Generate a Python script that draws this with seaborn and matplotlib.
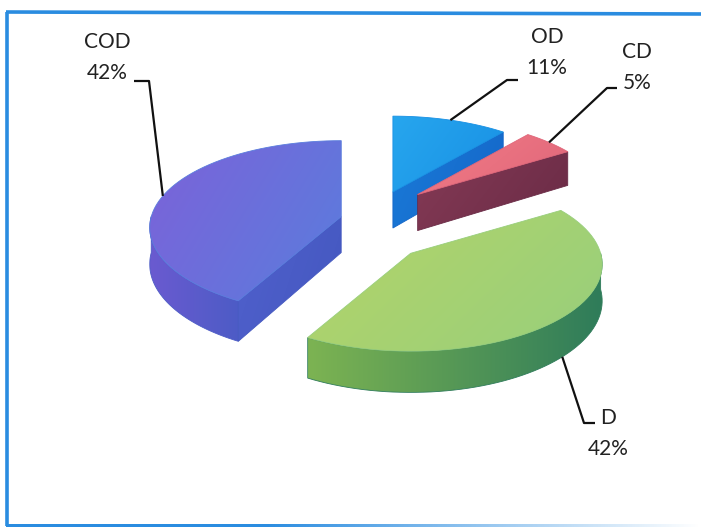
import numpy as np
import matplotlib
matplotlib.use("Agg")
import matplotlib.pyplot as plt
from matplotlib.patches import Polygon
from matplotlib.colors import to_rgb
import seaborn as sns

# Data
labels = ["OD", "CD", "D", "COD"]
values = [11, 5, 42, 42]
explode = [38, 50, 42, 40]

# Face colours per slice: (top light, top dark), (wall light, wall dark), (cut light, cut dark)
top_cols = [("#27a6ee", "#1890e4"), ("#f27c86", "#e0667a"),
            ("#b4d468", "#98cf7c"), ("#7c62d9", "#5a7ddd")]
wall_cols = [("#1a78d6", "#1466c8"), ("#7f3552", "#692a45"),
             ("#7cb352", "#2f7c5a"), ("#6a5ad0", "#4d5cc6")]
cut_cols = [("#1a7ad8", "#1466c8"), ("#843a55", "#6a2b46"),
            ("#6aa84e", "#3f8a55"), ("#5060cc", "#4458c0")]

# Label placement (text centre of name line) and leader elbow
label_pos = [(547, 37), (637, 52), (608, 418), (107, 42)]
elbows = [((507, 80), (518, 80)), ((607, 88), (617, 88)),
          ((584, 423), (595, 423)), ((149, 81), (134, 81))]

sns.set_theme(style="white")
plt.rcParams["font.family"] = ["Lato", "DejaVu Sans"]

W, H = 701, 528
fig = plt.figure(figsize=(W / 100, H / 100), dpi=100)
ax = fig.add_axes([0, 0, 1, 1])
ax.set_xlim(0, W)
ax.set_ylim(H, 0)
ax.axis("off")

# 3-D pie geometry (pixel units)
CX, CY = 380, 226
R, K, DEPTH, P, KE = 190.0, 0.45, 36.0, 1500.0, 0.95


def proj(apex, X, Y, Z=0.0):
    s = P / (P + Y)
    return np.column_stack([apex[0] + X * s, apex[1] - Y * K * s + Z * s])


def arc(apex, t0, t1, Z=0.0, n=60):
    t = np.radians(np.linspace(t0, t1, n))
    return proj(apex, R * np.sin(t), R * np.cos(t), np.full(n, Z))


def grad_fill(verts, c1, c2, z, direction=(1.0, 0.3)):
    verts = np.asarray(verts)
    poly = Polygon(verts, closed=True, facecolor="none",
                   edgecolor=c2, lw=0.6, zorder=z + 0.01)
    ax.add_patch(poly)
    x0, y0 = verts.min(axis=0)
    x1, y1 = verts.max(axis=0)
    n = 64
    gx, gy = np.meshgrid(np.linspace(0, 1, n), np.linspace(0, 1, n))
    t = gx * direction[0] + gy * direction[1]
    t = (t - t.min()) / (t.max() - t.min() + 1e-9)
    a, b = np.array(to_rgb(c1)), np.array(to_rgb(c2))
    img = (1 - t)[..., None] * a + t[..., None] * b
    im = ax.imshow(img, extent=(x0, x1, y1, y0), origin="upper",
                   zorder=z, interpolation="bilinear", aspect="auto")
    im.set_clip_path(poly)


total = float(sum(values))
bounds = np.concatenate([[0], np.cumsum(values)]) / total * 360.0
slices = []
for i in range(len(values)):
    t0, t1 = bounds[i], bounds[i + 1]
    mid = np.radians((t0 + t1) / 2)
    apex = (CX + explode[i] * np.sin(mid), CY - explode[i] * np.cos(mid) * KE)
    slices.append((apex, t0, t1, i))

# paint from back to front
for rank, (apex, t0, t1, i) in enumerate(sorted(slices, key=lambda s: s[0][1])):
    z = 2 + rank * 5
    a_top = np.array(apex)
    a_bot = a_top + np.array([0, DEPTH])
    # outer wall (front half only)
    lo, hi = max(t0, 90.0), min(t1, 270.0)
    if hi > lo:
        top = arc(apex, lo, hi, 0.0)
        bot = arc(apex, lo, hi, DEPTH)[::-1]
        grad_fill(np.vstack([top, bot]), *wall_cols[i], z, direction=(1.0, 0.0))
    # radial cut faces facing the viewer
    for ang, vis in ((t0, np.sin(np.radians(t0)) < -1e-6),
                     (t1, np.sin(np.radians(t1)) > 1e-6)):
        if vis:
            o_top = arc(apex, ang, ang, 0.0, n=1)[0]
            o_bot = arc(apex, ang, ang, DEPTH, n=1)[0]
            grad_fill([a_top, o_top, o_bot, a_bot], *cut_cols[i], z + 1,
                      direction=(1.0, 0.4))
    # top face
    grad_fill(np.vstack([a_top, arc(apex, t0, t1, 0.0)]), *top_cols[i], z + 2,
              direction=(1.0, 0.5))

# leader lines and labels
for (apex, t0, t1, i) in slices:
    mid = (t0 + t1) / 2
    below = label_pos[i][1] > apex[1]
    anchor = arc(apex, mid, mid, DEPTH if below else 0.0, n=1)[0]
    (ex, ey), (hx, hy) = elbows[i]
    ax.plot([anchor[0], ex, hx], [anchor[1], ey, hy], color="#111111",
            lw=1.6, zorder=40, solid_capstyle="butt")
    lx, ly = label_pos[i]
    ax.text(lx, ly, labels[i], ha="center", va="center", fontsize=15,
            color="#222222", zorder=41)
    ax.text(lx, ly + 31, f"{values[i]}%", ha="center", va="center",
            fontsize=15, color="#222222", zorder=41)

# chart frame: strong left and top edges, bottom edge fading out to the right
ax.plot([7, 7], [12, 526], color="#2a8ce0", lw=2.6, zorder=50,
        solid_capstyle="butt")
ax.plot([6, W + 2], [12, 14], color="#2a8ce0", lw=2.6, zorder=50,
        solid_capstyle="butt")
fade = np.zeros((1, 256, 4))
fade[..., :3] = to_rgb("#2a8ce0")
fade[..., 3] = np.clip(np.linspace(1.0, 0.0, 256) * 1.6, 0, 1)
ax.imshow(fade, extent=(6, W, 527, 524), origin="upper", aspect="auto",
          interpolation="bilinear", zorder=50)

ax.set_xlim(0, W)
ax.set_ylim(H, 0)
fig.savefig("out.png", dpi=100)
